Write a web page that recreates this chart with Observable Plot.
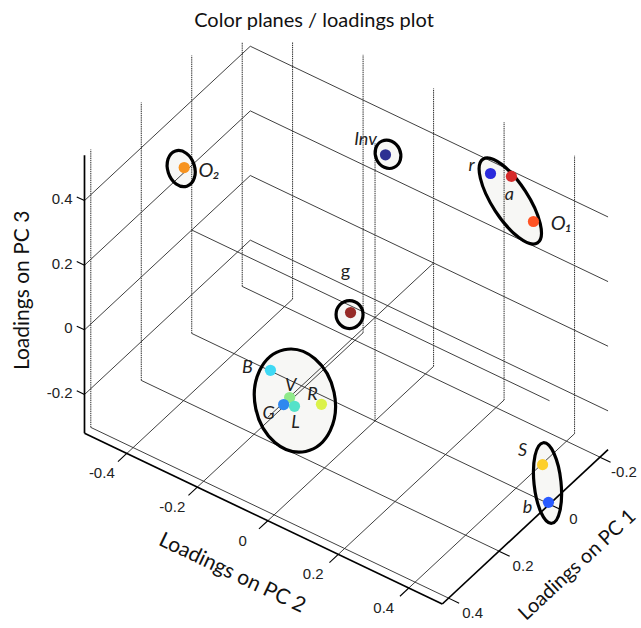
<!DOCTYPE html>
<html>
<head>
<meta charset="utf-8">
<script src="https://cdn.jsdelivr.net/npm/d3@7"></script>
<script src="https://cdn.jsdelivr.net/npm/@observablehq/plot@0.6"></script>
<style>
  body { margin: 0; background: #fff; }
  #wrap { position: relative; width: 641px; height: 628px; overflow: hidden; background: #fff; }
  #title { position: absolute; left: 0; top: 9px; width: 628px; text-align: center;
           font: 20px Lato, "Open Sans", sans-serif; line-height: 20px; color: #111; }
  #chart { position: absolute; left: 0; top: 42px; }
</style>
</head>
<body>
<div id="wrap">
  <div id="title">Color planes / loadings plot</div>
  <div id="chart"></div>
</div>
<script>
// Loadings of each colour plane on the first three principal components
const planes = ["O₂", "Inv", "r", "a", "O₁", "g", "B", "V", "G", "L", "R", "S", "b"];
const pc1 = [0.03, -0.23, -0.10, -0.12, -0.15, 0.03, 0.36, 0.40, 0.425, 0.41, 0.38, -0.02, 0.00];
const pc2 = [-0.52, -0.135, 0.256, 0.301, 0.342, -0.048, -0.039, 0.044, 0.045, 0.065, 0.12, 0.461, 0.492];
const pc3 = [0.215, 0.266, 0.506, 0.506, 0.366, 0.012, 0.078, 0.066, 0.063, 0.057, 0.07, -0.23, -0.316];
const planeColors = ["#f7931e", "#2e3192", "#2b2bdc", "#d62b2b", "#ff5324", "#962a26",
                     "#3fd9f4", "#8fe98a", "#2f88ef", "#54e2c9", "#dbf24a", "#fdcf2b", "#2a5bff"];

// Axis limits and ticks
const lim1 = [-0.232, 0.425];
const lim2 = [-0.52, 0.495];
const lim3 = [-0.32, 0.54];
const ticks1 = [-0.2, 0, 0.2, 0.4];
const ticks2 = [-0.4, -0.2, 0, 0.2, 0.4];
const ticks3 = [-0.2, 0, 0.2, 0.4];
const tickText1 = ["-0.2", "0", "0.2", "0.4"];
const tickText2 = ["-0.4", "-0.2", "0", "0.2", "0.4"];
const tickText3 = ["-0.2", "0", "0.2", "0.4"];

// Camera: orthographic view, equal data aspect, PC1 running toward the viewer
const view = {az: 35.6, el: 41.8, pxPerUnit: 433.5};
const rad = Math.PI / 180;
const ca = Math.cos(view.az * rad), sa = Math.sin(view.az * rad);
const ce = Math.cos(view.el * rad), se = Math.sin(view.el * rad);
function project(p1, p2, p3) {
  return [ca * p2 - sa * p1, ce * p3 - se * (sa * p2 + ca * p1)];
}

// Groups circled on the chart (drawn around their members)
const circled = [
  {members: ["O₂"], rx: 13.5, ry: 18.5, angle: -18, dx: -2.5, dy: 1.5},
  {members: ["Inv"], rx: 12.5, ry: 14.5, angle: -25, dx: 3, dy: 0},
  {members: ["r", "a", "O₁"], rx: 18, ry: 50, angle: -33, dx: -1, dy: 11},
  {members: ["g"], rx: 13.5, ry: 14, angle: 0, dx: -0.5, dy: 2.5},
  {members: ["B", "V", "G", "L", "R"], rx: 40, ry: 52, angle: -12, dx: 3.5, dy: 4.5},
  {members: ["S", "b"], rx: 13.5, ry: 40.5, angle: -6, dx: 2.5, dy: 0}
];

// Label placement next to each point (pixels), font size and style
const labelPlacement = {
  "O₂": {dx: 25, dy: 3, size: 20, italic: true},
  "Inv": {dx: -20, dy: -16, size: 18, italic: true},
  "r": {dx: -19, dy: -8, size: 18, italic: true},
  "a": {dx: -2, dy: 18, size: 18, italic: true},
  "O₁": {dx: 28, dy: 2, size: 20, italic: true},
  "g": {dx: -5, dy: -41, size: 18, italic: false},
  "B": {dx: -23, dy: -3, size: 18, italic: true},
  "V": {dx: 1, dy: -12, size: 18, italic: true},
  "G": {dx: -15, dy: 9, size: 18, italic: true},
  "L": {dx: 1, dy: 16, size: 18, italic: true},
  "R": {dx: -9, dy: -10, size: 18, italic: true},
  "S": {dx: -20, dy: -14, size: 18, italic: true},
  "b": {dx: -21, dy: 5, size: 18, italic: true}
};

const width = 641, height = 586;
const K = view.pxPerUnit;
const frame = {left: 84, bottom: 561.5};
const corners = d3.cross(lim1, lim2, lim3).map(c => project(...c));
const hMin = d3.min(corners, c => c[0]);
const vMin = d3.min(corners, c => c[1]);

const points = planes.map((name, i) => {
  const [h, v] = project(pc1[i], pc2[i], pc3[i]);
  const lp = labelPlacement[name];
  return {name, h, v, color: planeColors[i],
          lh: h + lp.dx / K, lv: v - lp.dy / K, size: lp.size, italic: lp.italic};
});

// Grid, zero lines, axis lines and tick marks as 3-D segments
const segs = [];
function seg(a, b, kind) {
  const [x1, y1] = project(...a), [x2, y2] = project(...b);
  segs.push({x1, y1, x2, y2, kind});
}
const [p1min, p1max] = lim1, [p2min, p2max] = lim2, [p3min, p3max] = lim3;
for (const t of ticks3) seg([p1max, p2min, t], [p1min, p2min, t], "grid");
for (const t of ticks1) seg([t, p2min, p3min], [t, p2min, p3max], "vert");
for (const t of ticks3) seg([p1min, p2min, t], [p1min, p2max, t], "grid");
for (const t of ticks2) seg([p1min, t, p3min], [p1min, t, p3max], "vert");
for (const t of ticks1) seg([t, p2min, p3min], [t, p2max, p3min], "grid");
for (const t of ticks2) seg([p1min, t, p3min], [p1max, t, p3min], "grid");
seg([p1min, 0, 0], [p1max, 0, 0], "grid");
seg([0, p2min, 0], [0, p2max, 0], "grid");
seg([0, 0, p3min], [0, 0, p3max], "vert");
seg([p1max, p2min, p3min], [p1max, p2min, p3max], "axis");
seg([p1max, p2min, p3min], [p1max, p2max, p3min], "axis");
seg([p1min, p2max, p3min], [p1max, p2max, p3min], "axis");
for (const t of ticks3) seg([p1max, p2min, t], [p1max, p2min - 0.022, t], "tick");
for (const t of ticks2) seg([p1max, t, p3min], [p1max + 0.035, t, p3min], "tick");
for (const t of ticks1) seg([t, p2max, p3min], [t, p2max + 0.03, p3min], "tick");

const tickLabels = [
  ...ticks3.map((t, i) => { const [h, v] = project(p1max, p2min, t); return {h, v, text: tickText3[i], axis: 3}; }),
  ...ticks2.map((t, i) => { const [h, v] = project(p1max, t, p3min); return {h, v, text: tickText2[i], axis: 2}; }),
  ...ticks1.map((t, i) => { const [h, v] = project(t, p2max, p3min); return {h, v, text: tickText1[i], axis: 1}; })
];

const mid = a => (a[0] + a[1]) / 2;
const title3 = project(p1max, p2min, mid(lim3));
const title2 = project(p1max, mid(lim2), p3min);
const title1 = project(mid(lim1), p2max, p3min);
const angle2 = Math.atan2(se * sa, ca) / rad;        // direction of PC2 on screen
const angle1 = -Math.atan2(se * ca, sa) / rad;       // direction of decreasing PC1

const ellipses = layer => (index, scales) => {
  const g = d3.create("svg:g");
  for (const e of circled) {
    const pts = e.members.map(m => points.find(p => p.name === m));
    const cx = d3.mean(pts, p => scales.x(p.h)) + e.dx;
    const cy = d3.mean(pts, p => scales.y(p.v)) + e.dy;
    g.append("ellipse")
      .attr("cx", cx).attr("cy", cy).attr("rx", e.rx).attr("ry", e.ry)
      .attr("transform", `rotate(${e.angle} ${cx} ${cy})`)
      .attr("fill", layer === "fill" ? "#f7f7f5" : "none")
      .attr("stroke", layer === "fill" ? "none" : "#000")
      .attr("stroke-width", 3.2);
  }
  return g.node();
};

const tickFont = "'Liberation Sans', Arial, sans-serif";
const labelFont = "Lato, 'Open Sans', sans-serif";

const chart = Plot.plot({
  width, height,
  margin: 0,
  style: {background: "transparent", overflow: "hidden"},
  x: {axis: null, domain: [hMin - frame.left / K, hMin + (width - frame.left) / K], range: [0, width]},
  y: {axis: null, domain: [vMin - (height - frame.bottom) / K, vMin + frame.bottom / K], range: [height, 0]},
  color: {type: "identity"},
  marks: [
    ellipses("fill"),
    Plot.link(segs.filter(d => d.kind === "grid"), {x1: "x1", y1: "y1", x2: "x2", y2: "y2", stroke: "#2a2a2a", strokeWidth: 0.9, clip: true}),
    Plot.link(segs.filter(d => d.kind === "vert"), {x1: "x1", y1: "y1", x2: "x2", y2: "y2", stroke: "#2a2a2a", strokeWidth: 1, strokeDasharray: "1.4 0.8", clip: true}),
    Plot.link(segs.filter(d => d.kind === "axis"), {x1: "x1", y1: "y1", x2: "x2", y2: "y2", stroke: "#000", strokeWidth: 1.7}),
    Plot.link(segs.filter(d => d.kind === "tick"), {x1: "x1", y1: "y1", x2: "x2", y2: "y2", stroke: "#000", strokeWidth: 1.1}),
    ellipses("stroke"),
    Plot.dot(points, {x: "h", y: "v", fill: "color", r: 5.6, stroke: null}),
    ...d3.groups(points, p => p.size, p => p.italic).flatMap(([size, byStyle]) =>
      byStyle.map(([italic, pts]) =>
        Plot.text(pts, {x: "lh", y: "lv", text: "name", fontSize: size, fontStyle: italic ? "italic" : "normal",
                        fontFamily: labelFont, fill: "#222"}))),
    Plot.text(tickLabels.filter(d => d.axis === 3), {x: "h", y: "v", text: "text", textAnchor: "end", dx: -12, dy: -1.5,
                                                     fontSize: 15, fontFamily: tickFont, fill: "#222"}),
    Plot.text(tickLabels.filter(d => d.axis === 2), {x: "h", y: "v", text: "text", dx: -25, dy: 20,
                                                     fontSize: 15, fontFamily: tickFont, fill: "#222"}),
    Plot.text(tickLabels.filter(d => d.axis === 1), {x: "h", y: "v", text: "text", dx: 24, dy: 15,
                                                     fontSize: 15, fontFamily: tickFont, fill: "#222"}),
    Plot.text([{h: title3[0], v: title3[1]}], {x: "h", y: "v", text: () => "Loadings on PC 3", rotate: -90, dx: -62, dy: -4,
                                                 fontSize: 21, fontFamily: labelFont, fill: "#111"}),
    Plot.text([{h: title2[0], v: title2[1]}], {x: "h", y: "v", text: () => "Loadings on PC 2", rotate: angle2, dx: -31, dy: 54,
                                                 fontSize: 21, fontFamily: labelFont, fill: "#111"}),
    Plot.text([{h: title1[0], v: title1[1]}], {x: "h", y: "v", text: () => "Loadings on PC 1", rotate: angle1, dx: 52, dy: 38,
                                                 fontSize: 20, fontFamily: labelFont, fill: "#111"})
  ]
});
document.getElementById("chart").append(chart);
</script>
</body>
</html>
